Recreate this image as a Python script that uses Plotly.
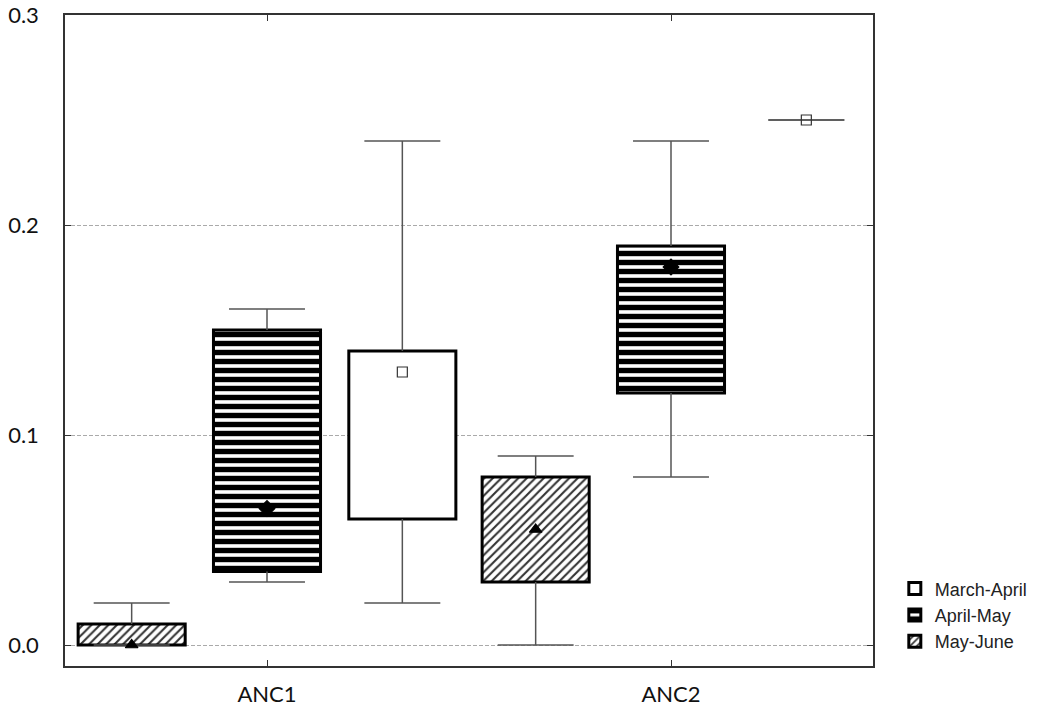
import plotly.graph_objects as go

# Sites on the x axis and the three sampling periods
categories = ["ANC1", "ANC2"]
seasons = ["March-April", "April-May", "May-June"]

# Box-plot statistics per period, one value per site
mins = {
    "March-April": [0.02, 0.25],
    "April-May": [0.03, 0.08],
    "May-June": [0.0, 0.0],
}
q1s = {
    "March-April": [0.06, 0.25],
    "April-May": [0.035, 0.12],
    "May-June": [0.0, 0.03],
}
medians = {
    "March-April": [0.13, 0.25],
    "April-May": [0.065, 0.18],
    "May-June": [0.0, 0.055],
}
q3s = {
    "March-April": [0.14, 0.25],
    "April-May": [0.15, 0.19],
    "May-June": [0.01, 0.08],
}
maxs = {
    "March-April": [0.24, 0.25],
    "April-May": [0.16, 0.24],
    "May-June": [0.02, 0.09],
}

y_ticks = [0.0, 0.1, 0.2, 0.3]

# Layout of the groups (in category units)
offsets = {"May-June": -0.335, "April-May": 0.0, "March-April": 0.335}
box_width = 0.265
cap_half = 0.094

styles = {
    "March-April": dict(pattern=dict(shape=""), symbol="square-open",
                        msize=10, mcolor="#333333"),
    "April-May": dict(pattern=dict(shape="-", size=9, solidity=0.6,
                                   fgcolor="black", bgcolor="white", fgopacity=1),
                      symbol="diamond", msize=12, mcolor="black"),
    "May-June": dict(pattern=dict(shape="/", size=6, solidity=0.35,
                                  fgcolor="#333333", bgcolor="white", fgopacity=1),
                     symbol="triangle-up", msize=11, mcolor="black"),
}

fig = go.Figure()

# Boxes (interquartile range) as floating patterned bars;
# a collapsed box (q1 == q3) is left out
for s in seasons:
    xs = [i + offsets[s] for i in range(len(categories))]
    heights = [(b - a) if b > a else None for a, b in zip(q1s[s], q3s[s])]
    fig.add_trace(go.Bar(
        x=xs,
        base=q1s[s],
        y=heights,
        width=box_width,
        name=s,
        marker=dict(color="white", line=dict(color="black", width=3),
                    pattern=styles[s]["pattern"]),
        legendrank={"March-April": 1, "April-May": 2, "May-June": 3}[s],
        hoverinfo="skip",
    ))

# Whiskers with caps
for s in seasons:
    wx, wy = [], []
    for i in range(len(categories)):
        c = i + offsets[s]
        # upper whisker
        wx += [c, c, None, c - cap_half, c + cap_half, None]
        wy += [q3s[s][i], maxs[s][i], None, maxs[s][i], maxs[s][i], None]
        # lower whisker
        wx += [c, c, None, c - cap_half, c + cap_half, None]
        wy += [q1s[s][i], mins[s][i], None, mins[s][i], mins[s][i], None]
    fig.add_trace(go.Scatter(
        x=wx, y=wy, mode="lines",
        line=dict(color="#555555", width=1.5),
        showlegend=False, hoverinfo="skip",
    ))

# Median markers
for s in seasons:
    xs = [i + offsets[s] for i in range(len(categories))]
    st = styles[s]
    fig.add_trace(go.Scatter(
        x=xs, y=medians[s], mode="markers",
        marker=dict(symbol=st["symbol"], size=st["msize"], color=st["mcolor"],
                    line=dict(color=st["mcolor"], width=1.2)),
        showlegend=False,
    ))

fig.update_layout(
    width=1057, height=711,
    margin=dict(l=65, r=184, t=15, b=45, autoexpand=False),
    paper_bgcolor="white", plot_bgcolor="white",
    barmode="overlay",
    showlegend=True,
    legend=dict(
        x=1.027, xanchor="left", y=0.147, yanchor="top",
        font=dict(family="Liberation Sans, Arial, sans-serif", size=18, color="#222222"),
        itemwidth=30, tracegroupgap=0, bgcolor="rgba(0,0,0,0)",
    ),
    font=dict(family="Lato, sans-serif", size=22, color="#111111"),
)

fig.update_xaxes(
    range=[-0.5, 1.5],
    tickvals=list(range(len(categories))),
    ticktext=categories,
    showgrid=False, zeroline=False, automargin=False,
    showline=True, linecolor="#333333", linewidth=1.5, mirror="ticks",
    ticks="inside", ticklen=6, tickcolor="#333333",
    ticklabelstandoff=8,
)

fig.update_yaxes(
    range=[-0.01, 0.3],
    tickvals=y_ticks,
    ticktext=[f"{v:.1f}" for v in y_ticks],
    showgrid=True, gridcolor="#aaaaaa", gridwidth=1, griddash="4px,2px",
    zeroline=False, automargin=False,
    showline=True, linecolor="#333333", linewidth=1.5, mirror="ticks",
    ticks="inside", ticklen=6, tickcolor="#333333",
    ticklabelstandoff=20,
)

fig.write_html("out.html")
